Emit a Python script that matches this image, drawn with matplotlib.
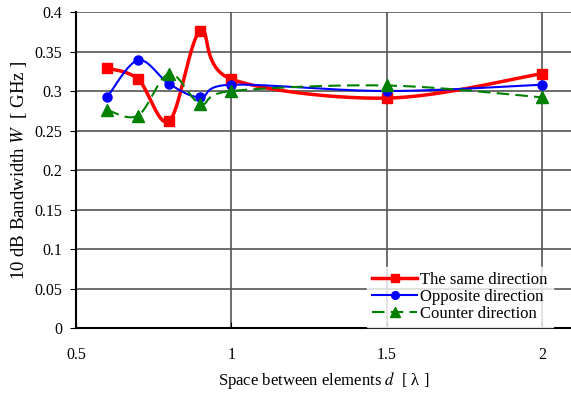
import numpy as np
import matplotlib
matplotlib.use("Agg")
import matplotlib.pyplot as plt

plt.rcParams['font.family'] = ['Liberation Serif', 'DejaVu Serif']
plt.rcParams['mathtext.fontset'] = 'stix'

# datos
espacio = [0.6, 0.7, 0.8, 0.9, 1.0, 1.5, 2.0]
mismo = [0.329, 0.315, 0.262, 0.376, 0.315, 0.291, 0.322]
opuesto = [0.292, 0.339, 0.309, 0.292, 0.308, 0.300, 0.308]
contrario = [0.276, 0.269, 0.322, 0.284, 0.300, 0.307, 0.292]


def suavizar(x, y, n=40):
    # curva suave tipo Excel (Bezier con tangentes Catmull-Rom)
    p = np.column_stack([x, y]).astype(float)
    p = np.vstack([p[0], p, p[-1]])
    xs, ys = [], []
    t = np.linspace(0, 1, n)
    for i in range(1, len(p) - 2):
        p0, p1, p2, p3 = p[i - 1], p[i], p[i + 1], p[i + 2]
        c1 = p1 + (p2 - p0) / 6
        c2 = p2 - (p3 - p1) / 6
        b = ((1 - t) ** 3)[:, None] * p1 + (3 * (1 - t) ** 2 * t)[:, None] * c1 \
            + (3 * (1 - t) * t ** 2)[:, None] * c2 + (t ** 3)[:, None] * p2
        xs.extend(b[:, 0])
        ys.extend(b[:, 1])
    return xs, ys


fig = plt.figure(figsize=(5.71, 3.94), dpi=100)
ax = fig.add_axes([0.133, 0.1675, 0.867, 0.802])

series = [
    (mismo, 'red', 's', '-', 2.5, 6.5, "The same direction"),
    (opuesto, 'blue', 'o', '-', 1.5, 6.5, "Opposite direction"),
    (contrario, 'green', '^', (0, (6, 3)), 1.5, 9, "Counter direction"),
]
for ys, c, m, ls, lw, ms, lab in series:
    sx, sy = suavizar(espacio, ys)
    ax.plot(sx, sy, color=c, lw=lw, ls=ls, zorder=3)
    ax.plot(espacio, ys, ls='none', marker=m, color=c, ms=ms, zorder=4)
    ax.plot([], [], color=c, lw=lw, ls=ls, marker=m, ms=ms * 0.85, label=lab)

ax.set_xlim(0.5, 2.093)
ax.set_ylim(0, 0.4)
ax.set_xticks([0.5, 1, 1.5, 2])
ax.set_xticklabels(['0.5', '1', '1.5', '2'])
ax.set_yticks(np.arange(0, 0.401, 0.05))
ax.set_yticklabels(['0', '0.05', '0.1', '0.15', '0.2', '0.25', '0.3', '0.35', '0.4'])
ax.grid(True, color='#555555', lw=1.2)
ax.set_axisbelow(True)
for s in ['top', 'right']:
    ax.spines[s].set_visible(False)
ax.spines['left'].set_linewidth(1.5)
ax.spines['bottom'].set_linewidth(1.5)
ax.tick_params(axis='x', direction='in', length=4, pad=14, labelsize=11.5)
ax.tick_params(axis='y', direction='out', length=4, pad=6, labelsize=11.5)

ax.set_xlabel(r"Space between elements $d$  [ λ ]", fontsize=12, labelpad=5)
ax.set_ylabel(r"10 dB Bandwidth $W$  [ GHz ]", fontsize=13.5, labelpad=4)

leg = ax.legend(loc='lower right', bbox_to_anchor=(0.98, -0.022), frameon=True,
                fontsize=12, handlelength=2.7, handletextpad=0.2,
                labelspacing=0.05, borderpad=0.3, fancybox=False)
leg.get_frame().set_facecolor('white')
leg.get_frame().set_edgecolor('white')

plt.savefig("out.png", dpi=100)
